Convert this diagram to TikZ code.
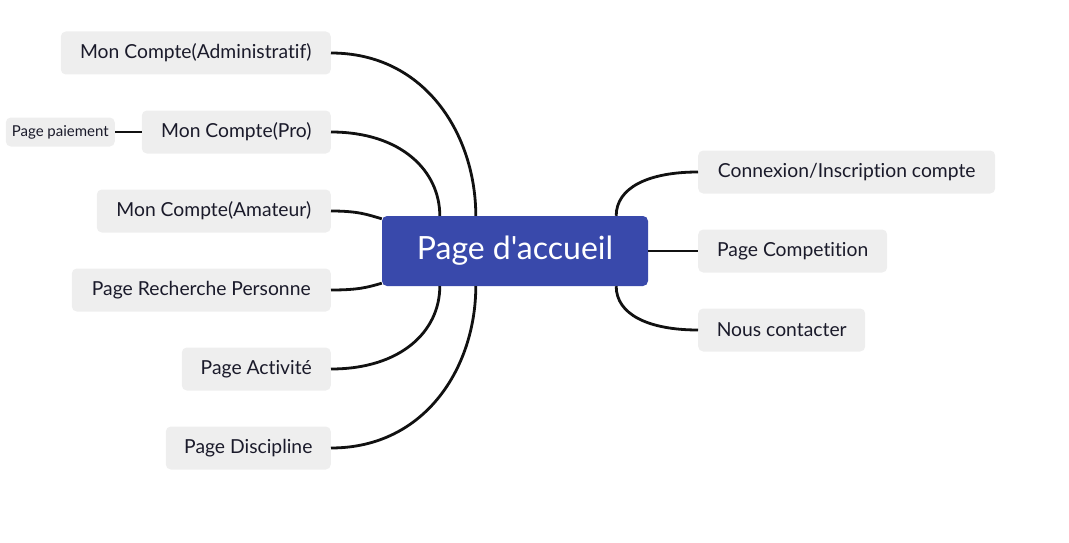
\documentclass[tikz,border=0pt]{standalone}
\usepackage{fontspec}
\setmainfont[Ligatures=NoCommon]{Lato}
\newfontfamily\homefont[Ligatures=NoCommon]{Lato}
\usetikzlibrary{calc}
\definecolor{boxgray}{HTML}{EEEEEE}
\definecolor{homeblue}{HTML}{3949AB}
\definecolor{txt}{HTML}{1A1A2A}
\definecolor{wire}{HTML}{111111}
\tikzset{
  leaf/.style={fill=boxgray, rounded corners=5pt, minimum height=43pt, inner sep=0pt,
    text=txt, font=\fontsize{19.3pt}{22pt}\selectfont},
  small/.style={fill=boxgray, rounded corners=5pt, minimum height=29pt, inner sep=0pt,
    text=txt, font=\fontsize{15pt}{17pt}\selectfont},
  home/.style={fill=homeblue, rounded corners=5pt, minimum width=266pt, minimum height=70pt,
    inner sep=0pt, text=white, font=\homefont\fontsize{32pt}{36pt}\selectfont},
  wirestyle/.style={draw=wire, line width=2.8pt}
}
\begin{document}
\begin{tikzpicture}[x=1pt,y=-1pt]
\useasboundingbox (0,0) rectangle (1069,543);
\node[home] (home) at (515,251) {Page d'accueil};
% left
\node[leaf, anchor=east, minimum width=270pt] (adm) at (331,53) {Mon Compte(Administratif)};
\node[leaf, anchor=east, minimum width=189pt] (pro) at (331,132) {Mon Compte(Pro)};
\node[leaf, anchor=east, minimum width=234pt] (ama) at (331,211) {Mon Compte(Amateur)};
\node[leaf, anchor=east, minimum width=259pt] (rech) at (331,290) {Page Recherche Personne};
\node[leaf, anchor=east, minimum width=149pt] (act) at (331,369) {Page Activité};
\node[leaf, anchor=east, minimum width=165pt] (disc) at (331,448) {Page Discipline};
\node[small, anchor=east, minimum width=109pt] (pay) at (115,132) {Page paiement};
% right
\node[leaf, anchor=west, minimum width=297pt] (conn) at (698,172) {Connexion/Inscription compte};
\node[leaf, anchor=west, minimum width=189pt] (comp) at (698,251) {Page Competition};
\node[leaf, anchor=west, minimum width=167pt] (cont) at (698,330) {Nous contacter};
% coordinates on the home box
\coordinate (hA) at ($(home.north west)+(94,0)$);
\coordinate (hB) at ($(home.north west)+(58,0)$);
\coordinate (hC) at ($(home.north west)+(0,3)$);
\coordinate (hD) at ($(home.south west)+(0,-3)$);
\coordinate (hE) at ($(home.south west)+(58,0)$);
\coordinate (hF) at ($(home.south west)+(94,0)$);
\coordinate (hG) at ($(home.north east)+(-32,0)$);
\coordinate (hH) at ($(home.south east)+(-32,0)$);
% connectors
\draw[wirestyle] (adm.east) .. controls +(95,0) and +(0,-80) .. (hA);
\draw[wirestyle] (pro.east) .. controls +(70,0) and +(0,-45) .. (hB);
\draw[wirestyle] (ama.east) .. controls +(28,0) and +(-14,-4) .. (hC);
\draw[wirestyle] (rech.east) .. controls +(28,0) and +(-14,4) .. (hD);
\draw[wirestyle] (act.east) .. controls +(70,0) and +(0,45) .. (hE);
\draw[wirestyle] (disc.east) .. controls +(95,0) and +(0,80) .. (hF);
\draw[wirestyle] (pay.east) -- (pro.west);
\draw[wirestyle] (conn.west) .. controls +(-50,0) and +(0,-28) .. (hG);
\draw[wirestyle] (home.east) -- (comp.west);
\draw[wirestyle] (cont.west) .. controls +(-50,0) and +(0,28) .. (hH);
\end{tikzpicture}
\end{document}
